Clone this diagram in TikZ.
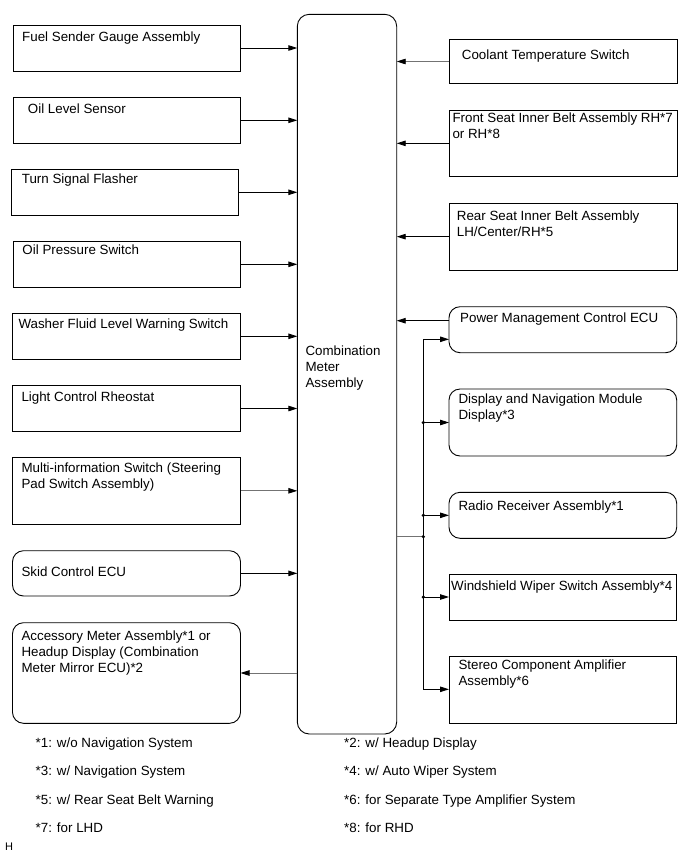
\documentclass[tikz,border=0pt]{standalone}
\usepackage{fontspec}
\setmainfont{Liberation Sans}
\usetikzlibrary{arrows.meta}
\newcommand\mlines[1]{\begin{tabular}[t]{@{}l@{}}#1\end{tabular}}
\begin{document}
\begin{tikzpicture}[x=1pt,y=-1pt,
  box/.style={draw, line width=0.9pt, anchor=north west, inner sep=0pt, outer sep=0pt},
  rbox/.style={box, rounded corners=11pt},
  lbl/.style={anchor=base west, inner sep=0pt, font=\fontsize{13.35}{16}\selectfont},
  ln/.style={line width=0.9pt},
  gln/.style={line width=0.9pt, draw=black!55},
  conn/.style={line width=0.9pt, -{Triangle[length=9pt,width=5.5pt,color=black]}},
  gconn/.style={conn, draw=black!55},
  dot/.style={circle, fill=black, inner sep=0pt, minimum size=3.6pt}
]
\useasboundingbox (0,0) rectangle (691,855);

% main box
\node[box, rounded corners=12pt, minimum width=99.4pt, minimum height=719.7pt] (main) at (297.3,14.3) {};
\node[lbl] (maint) at (305.3,355) {\mlines{Combination\\Meter\\Assembly}};

% left boxes
\node[box, minimum width=227.5pt, minimum height=46pt] (fuel) at (13,25) {};
\node[lbl] at (22,41.5) {Fuel Sender Gauge Assembly};
\node[box, minimum width=227.5pt, minimum height=46pt] (oill) at (13,97.3) {};
\node[lbl] at (27.7,113.3) {Oil Level Sensor};
\node[box, minimum width=227.5pt, minimum height=46pt] (turn) at (11,169.3) {};
\node[lbl] at (21.7,183.5) {Turn Signal Flasher};
\node[box, minimum width=227.5pt, minimum height=46pt] (oilp) at (13,241.3) {};
\node[lbl] at (22.3,254.5) {Oil Pressure Switch};
\node[box, minimum width=228pt, minimum height=46pt] (wash) at (12.5,313.3) {};
\node[lbl] at (18.3,328.3) {Washer Fluid Level Warning Switch};
\node[box, minimum width=228pt, minimum height=45.6pt] (light) at (12.5,385.7) {};
\node[lbl] at (21.3,401) {Light Control Rheostat};
\node[box, minimum width=228pt, minimum height=67pt] (multi) at (12.5,457.3) {};
\node[lbl] at (21.3,472.7) {\mlines{Multi-information Switch (Steering\\Pad Switch Assembly)}};
\node[rbox, minimum width=228pt, minimum height=45.3pt] (skid) at (12.5,550.7) {};
\node[lbl] at (21.3,576.7) {Skid Control ECU};
\node[rbox, minimum width=228pt, minimum height=100.6pt] (acc) at (12.5,622.7) {};
\node[lbl] at (21.3,640) {\mlines{Accessory Meter Assembly*1 or\\Headup Display (Combination\\Meter Mirror ECU)*2}};

% right boxes
\node[box, minimum width=228.3pt, minimum height=44.4pt] (cool) at (449,39.3) {};
\node[lbl] at (461.7,59.3) {Coolant Temperature Switch};
\node[box, minimum width=228.3pt, minimum height=66.7pt] (front) at (449,110) {};
\node[lbl] at (452.3,122.3) {\mlines{Front Seat Inner Belt Assembly RH*7\\or RH*8}};
\node[box, minimum width=228.3pt, minimum height=66.7pt] (rear) at (449,203.3) {};
\node[lbl] at (456.7,220) {\mlines{Rear Seat Inner Belt Assembly\\LH/Center/RH*5}};
\node[rbox, minimum width=227.7pt, minimum height=46pt] (power) at (449,306.7) {};
\node[lbl] at (460,322.3) {Power Management Control ECU};
\node[rbox, minimum width=227.7pt, minimum height=67pt] (disp) at (449,389) {};
\node[lbl] at (458.3,403.3) {\mlines{Display and Navigation Module\\Display*3}};
\node[rbox, minimum width=227.7pt, minimum height=46pt] (radio) at (449,492.3) {};
\node[lbl] at (458.3,510) {Radio Receiver Assembly*1};
\node[box, minimum width=227.7pt, minimum height=46pt] (wind) at (449,574) {};
\node[lbl] at (451,590) {Windshield Wiper Switch Assembly*4};
\node[box, minimum width=227.7pt, minimum height=67.3pt] (stereo) at (449,656) {};
\node[lbl] at (458.3,669.3) {\mlines{Stereo Component Amplifier\\Assembly*6}};

% left connectors
\draw[conn] (fuel.east) -- (fuel.east -| main.west);
\draw[conn] (oill.east) -- (oill.east -| main.west);
\draw[conn] (turn.east) -- (turn.east -| main.west);
\draw[conn] (oilp.east) -- (oilp.east -| main.west);
\draw[conn] (wash.east) -- (wash.east -| main.west);
\draw[conn] (light.east) -- (light.east -| main.west);
\draw[gconn] (multi.east) -- (multi.east -| main.west);
\draw[conn] (skid.east) -- (skid.east -| main.west);
\draw[gconn] (acc.east -| main.west) -- (acc.east);

% right connectors
\draw[gconn] (cool.west) -- (cool.west -| main.east);
\draw[conn] (front.west) -- (front.west -| main.east);
\draw[conn] (rear.west) -- (rear.west -| main.east);
\coordinate (pout) at ([yshift=9pt]power.west);
\draw[conn] (pout) -- (pout -| main.east);

% bus
\coordinate (bt) at (423.3,339.3);
\coordinate (bb) at (423.3,689.3);
\coordinate (jm) at (423.3,536.7);
\draw[ln] (bt) -- (bb);
\draw[gln] (main.east |- jm) -- (jm);
\draw[conn] (bt) -- (bt -| power.west);
\draw[conn] (disp.west -| bt) -- (disp.west);
\draw[conn] (radio.west -| bt) -- (radio.west);
\draw[conn] (wind.west -| bt) -- (wind.west);
\draw[conn] (bb) -- (bb -| stereo.west);
\node[dot] (d1) at (disp.west -| bt) {};
\node[dot] (d2) at (radio.west -| bt) {};
\node[dot] (d3) at (jm) {};
\node[dot] (d4) at (wind.west -| bt) {};

% footnotes
\node[lbl] (n1) at (35.5,747) {*1: w/o Navigation System};
\node[lbl] (n2) at (344,747) {*2: w/ Headup Display};
\node[lbl] (n3) at (35.5,775.5) {*3: w/ Navigation System};
\node[lbl] (n4) at (344,775.5) {*4: w/ Auto Wiper System};
\node[lbl] (n5) at (35.5,804) {*5: w/ Rear Seat Belt Warning};
\node[lbl] (n6) at (344,804) {*6: for Separate Type Amplifier System};
\node[lbl] (n7) at (35.5,832.5) {*7: for LHD};
\node[lbl] (n8) at (344,832.5) {*8: for RHD};
\node[lbl, font=\fontsize{11}{13}\selectfont] (h) at (5,850.5) {H};
\end{tikzpicture}
\end{document}
